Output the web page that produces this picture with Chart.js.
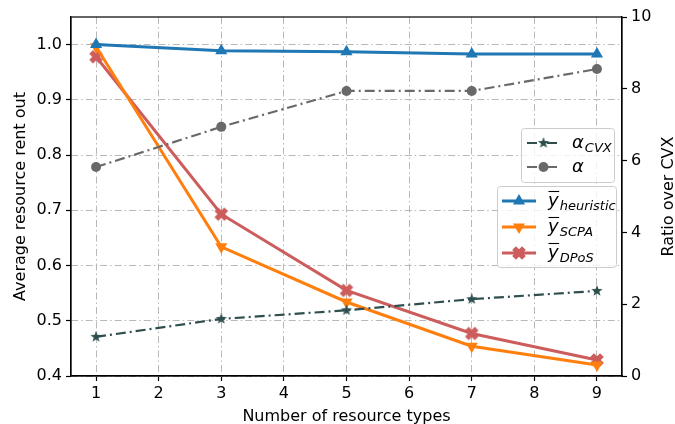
<!DOCTYPE html>
<html><head><meta charset="utf-8">
<script src="https://cdn.jsdelivr.net/npm/chart.js@4"></script>
<style>html,body{margin:0;padding:0;background:#fff}#wrap{width:675px;height:424px}</style>
</head><body><div id="wrap"><canvas id="c" width="675" height="424"></canvas></div>
<script>
const categories = [1, 3, 5, 7, 9];
const xTicks = [1, 2, 3, 4, 5, 6, 7, 8, 9];
const yHeuristic = [1.0, 0.989, 0.987, 0.983, 0.983];
const ySCPA = [0.996, 0.634, 0.534, 0.454, 0.420];
const yDPoS = [0.978, 0.693, 0.555, 0.477, 0.429];
const alphaCVX = [1.09, 1.59, 1.83, 2.14, 2.37];
const alpha = [5.82, 6.94, 7.94, 7.94, 8.55];
const leftTicks = [0.4, 0.5, 0.6, 0.7, 0.8, 0.9, 1.0];
const rightTicks = [0, 2, 4, 6, 8, 10];
const xTitle = 'Number of resource types';
const yTitle = 'Average resource rent out';
const y2Title = 'Ratio over CVX';

const C_CVX = '#2F4F4F', C_A = '#696969', C_H = '#1f77b4', C_S = '#ff7f0e', C_D = '#CD5C5C';
const FONT = 'DejaVu Sans';

function starCanvas(color, R) {
  const s = Math.ceil(R * 2 + 2), c = document.createElement('canvas');
  c.width = s; c.height = s; const g = c.getContext('2d');
  g.fillStyle = color; g.beginPath();
  for (let i = 0; i < 10; i++) {
    const r = i % 2 ? R * 0.4 : R, a = -Math.PI / 2 + i * Math.PI / 5;
    g.lineTo(s / 2 + r * Math.cos(a), s / 2 + r * Math.sin(a));
  }
  g.closePath(); g.fill(); return c;
}
function xCanvas(color, R) {
  const s = Math.ceil(R * 2 + 2), c = document.createElement('canvas');
  c.width = s; c.height = s; const g = c.getContext('2d');
  g.fillStyle = color; g.translate(s / 2, s / 2);
  const w = R * 0.38;
  for (const a of [Math.PI / 4, -Math.PI / 4]) {
    g.save(); g.rotate(a); g.fillRect(-R, -w, 2 * R, 2 * w); g.restore();
  }
  return c;
}
const starImg = starCanvas(C_CVX, 6);
const xImg = xCanvas(C_D, 7);

function pts(ys) { return categories.map((x, i) => ({ x, y: ys[i] })); }
const dashDot = [10, 4, 2, 4];

const datasets = [
  { label: 'aCVX', data: pts(alphaCVX), yAxisID: 'y2', borderColor: C_CVX, backgroundColor: C_CVX, borderWidth: 2.2, borderDash: dashDot, pointStyle: starImg, pointRadius: 6 },
  { label: 'a', data: pts(alpha), yAxisID: 'y2', borderColor: C_A, backgroundColor: C_A, borderWidth: 2.2, borderDash: dashDot, pointStyle: 'circle', pointRadius: 5, pointBorderWidth: 0 },
  { label: 'heur', data: pts(yHeuristic), yAxisID: 'y', borderColor: C_H, backgroundColor: C_H, borderWidth: 3, pointStyle: 'triangle', pointRadius: 7, pointBorderWidth: 0 },
  { label: 'scpa', data: pts(ySCPA), yAxisID: 'y', borderColor: C_S, backgroundColor: C_S, borderWidth: 3, pointStyle: 'triangle', pointRotation: 180, pointRadius: 7, pointBorderWidth: 0 },
  { label: 'dpos', data: pts(yDPoS), yAxisID: 'y', borderColor: C_D, backgroundColor: C_D, borderWidth: 3, pointStyle: xImg, pointRadius: 7 },
];

const gridCommon = { color: '#b8b8b8', lineWidth: 1, tickColor: '#000', tickLength: 5, tickBorderDash: [], tickWidth: 1.2 };
const borderCommon = { color: '#000', width: 1.2, dash: [7, 3, 1.5, 3] };

function drawMathLabel(g, x, y, kind, sub) {
  g.fillStyle = '#000'; g.textBaseline = 'alphabetic'; g.textAlign = 'left';
  g.font = 'italic 18px ' + FONT;
  const base = kind === 'a' ? 'α' : 'y';
  g.fillText(base, x, y + 5);
  const w = g.measureText(base).width;
  if (kind === 'y') {
    g.strokeStyle = '#000'; g.lineWidth = 1.1; g.setLineDash([]);
    g.beginPath(); g.moveTo(x + 0.5, y - 9.5); g.lineTo(x + w + 0.5, y - 9.5); g.stroke();
  }
  if (sub) { g.font = 'italic 13px ' + FONT; g.fillText(sub, x + w + 1, y + 9); }
}

function drawLegendItem(g, x0, x1, y, ds, kind, sub) {
  g.save();
  g.strokeStyle = ds.borderColor; g.lineWidth = ds.borderWidth; g.setLineDash(ds.borderDash || []);
  g.beginPath(); g.moveTo(x0, y); g.lineTo(x1, y); g.stroke(); g.setLineDash([]);
  const mx = (x0 + x1) / 2;
  g.fillStyle = ds.backgroundColor;
  if (typeof ds.pointStyle === 'string') {
    g.beginPath();
    if (ds.pointStyle === 'circle') { g.arc(mx, y, ds.pointRadius, 0, Math.PI * 2); }
    else {
      const r = ds.pointRadius, rot = (ds.pointRotation || 0) * Math.PI / 180;
      for (let i = 0; i < 3; i++) { const a = rot - Math.PI / 2 + i * 2 * Math.PI / 3; g.lineTo(mx + r * Math.cos(a), y + r * Math.sin(a)); }
      g.closePath();
    }
    g.fill();
  } else {
    const im = ds.pointStyle;
    g.drawImage(im, mx - im.width / 2, y - im.height / 2);
  }
  g.restore();
  drawMathLabel(g, x1 + 12, y, kind, sub);
}

function box(g, x, y, w, h) {
  g.save(); g.fillStyle = 'rgba(255,255,255,0.8)'; g.strokeStyle = '#cccccc'; g.lineWidth = 1; g.setLineDash([]);
  g.beginPath(); g.roundRect(x + 0.5, y + 0.5, w, h, 3); g.fill(); g.stroke(); g.restore();
}

const legendPlugin = {
  id: 'legends',
  afterDraw(chart) {
    const g = chart.ctx, a = chart.chartArea;
    g.save(); g.strokeStyle = '#000'; g.lineWidth = 1.2; g.setLineDash([]);
    g.strokeRect(a.left, a.top, a.right - a.left, a.bottom - a.top);
    g.fillStyle = '#000'; g.font = '16px ' + FONT; g.textAlign = 'center'; g.textBaseline = 'alphabetic';
    g.fillText(xTitle, (a.left + a.right) / 2, 421);
    const cy = (a.top + a.bottom) / 2;
    g.save(); g.translate(25, cy); g.rotate(-Math.PI / 2); g.fillText(yTitle, 0, 0); g.restore();
    g.save(); g.translate(673, cy); g.rotate(-Math.PI / 2); g.fillText(y2Title, 0, 0); g.restore();
    g.restore();
    const d = chart.data.datasets;
    box(g, 521, 128, 93, 54);
    drawLegendItem(g, 527, 560, 143, d[0], 'a', 'CVX');
    drawLegendItem(g, 527, 560, 167, d[1], 'a', '');
    box(g, 497, 186, 119, 81);
    drawLegendItem(g, 502, 536, 201, d[2], 'y', 'heuristic');
    drawLegendItem(g, 502, 536, 227, d[3], 'y', 'SCPA');
    drawLegendItem(g, 502, 536, 253, d[4], 'y', 'DPoS');
  }
};

Chart.defaults.font.family = FONT;
Chart.defaults.font.size = 16;
Chart.defaults.color = '#000';

new Chart(document.getElementById('c'), {
  type: 'line',
  data: { datasets },
  plugins: [legendPlugin],
  options: {
    responsive: false, animation: false, devicePixelRatio: 1,
    layout: { padding: { top: 17, left: 0, right: 0, bottom: 0 } },
    plugins: { legend: { display: false }, tooltip: { enabled: false } },
    scales: {
      x: {
        type: 'linear', min: 0.6, max: 9.4,
        afterBuildTicks: s => { s.ticks = xTicks.map(v => ({ value: v })); },
        afterFit: s => { s.height = 48; },
        ticks: { padding: 3, callback: v => String(v) },
        grid: gridCommon, border: borderCommon
      },
      y: {
        position: 'left', min: 0.4, max: 1.05,
        afterBuildTicks: s => { s.ticks = leftTicks.map(v => ({ value: v })); },
        afterFit: s => { s.width = 71; },
        ticks: { padding: 4, callback: v => v.toFixed(1) },
        grid: gridCommon, border: borderCommon
      },
      y2: {
        position: 'right', min: 0, max: 10,
        afterBuildTicks: s => { s.ticks = rightTicks.map(v => ({ value: v })); },
        afterFit: s => { s.width = 53; },
        ticks: { padding: 4, callback: v => String(v) },
        grid: { drawOnChartArea: false, tickColor: '#000', tickLength: 5, tickWidth: 1.2 }, border: { color: '#000', width: 1.2 }
      }
    }
  }
});
</script></body></html>
